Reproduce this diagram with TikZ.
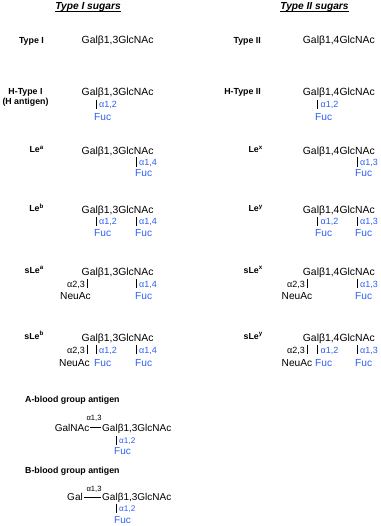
\documentclass[tikz,border=0pt]{standalone}
\usepackage{fontspec}
\setmainfont{Liberation Sans}
\usepackage{xcolor}
\definecolor{fucblue}{RGB}{45,95,245}

\tikzset{
  every node/.style={inner sep=0pt},
  sugar/.style={anchor=base west,font=\fontsize{10.4}{12}\selectfont},
  lbl/.style={anchor=base east,font=\bfseries\fontsize{8.8}{10}\selectfont},
  head/.style={anchor=base,font=\bfseries\itshape\fontsize{10.2}{12}\selectfont},
  lnk/.style={anchor=base west,text=fucblue,font=\fontsize{9}{10}\selectfont},
  sia/.style={anchor=base east,font=\fontsize{9}{10}\selectfont},
  fuc/.style={anchor=base west,text=fucblue,font=\fontsize{10.2}{12}\selectfont},
  neu/.style={anchor=base east,font=\fontsize{10.2}{12}\selectfont},
  bond/.style={line width=0.9pt}
}

\begin{document}
\begin{tikzpicture}[x=1pt,y=-1pt]
\useasboundingbox (0,0) rectangle (380,526);
% headings
\node[head] (t1) at (88,10) {Type I sugars};
\node[head] (t2) at (314.5,10) {Type II sugars};
\draw[line width=0.8pt] ([yshift=-1.3pt]t1.base west) -- ([yshift=-1.3pt]t1.base east);
\draw[line width=0.8pt] ([yshift=-1.3pt]t2.base west) -- ([yshift=-1.3pt]t2.base east);

% type I column
\node[lbl] (lI1) at (44,44) {Type I};
\node[sugar] (gI1) at (81.5,44) {Galβ1,3GlcNAc};

\node[lbl,anchor=base] (lI2) at (25.5,95) {H-Type I};
\node[lbl,anchor=base] (lI2b) at (25.5,104.5) {(H antigen)};
\node[sugar] (gI2) at (81.5,96) {Galβ1,3GlcNAc};
\node[lnk] (aI2) at (99,108) {α1,2};
\node[fuc] (fI2) at (94,120.5) {Fuc};

\node[lbl] (lI3) at (44,153) {Le\textsuperscript{a}};
\node[sugar] (gI3) at (81.5,154.5) {Galβ1,3GlcNAc};
\node[lnk] (aI3) at (139,165.5) {α1,4};
\node[fuc] (fI3) at (135,176.5) {Fuc};

\node[lbl] (lI4) at (44,212) {Le\textsuperscript{b}};
\node[sugar] (gI4) at (81.5,214) {Galβ1,3GlcNAc};
\node[lnk] (aI4) at (99,225) {α1,2};
\node[lnk] (aI4b) at (139,225) {α1,4};
\node[fuc] (fI4) at (94,236.5) {Fuc};
\node[fuc] (fI4b) at (135,236.5) {Fuc};

\node[lbl] (lI5) at (44,273) {sLe\textsuperscript{a}};
\node[sugar] (gI5) at (81.5,275) {Galβ1,3GlcNAc};
\node[sia] (sI5) at (85,287) {α2,3};
\node[lnk] (aI5b) at (139,287) {α1,4};
\node[neu] (nI5) at (91,299) {NeuAc};
\node[fuc] (fI5b) at (135,299) {Fuc};

\node[lbl] (lI6) at (44,339) {sLe\textsuperscript{b}};
\node[sugar] (gI6) at (81.5,341) {Galβ1,3GlcNAc};
\node[sia] (sI6) at (85,353) {α2,3};
\node[lnk] (aI6) at (99,353) {α1,2};
\node[lnk] (aI6b) at (139,353) {α1,4};
\node[neu] (nI6) at (90,366) {NeuAc};
\node[fuc] (fI6) at (94,366) {Fuc};
\node[fuc] (fI6b) at (135,366) {Fuc};

% type II column
\node[lbl] (lII1) at (261,44) {Type II};
\node[sugar] (gII1) at (302.7,44) {Galβ1,4GlcNAc};

\node[lbl] (lII2) at (261,95) {H-Type II};
\node[sugar] (gII2) at (302.7,96) {Galβ1,4GlcNAc};
\node[lnk] (aII2) at (320.5,108) {α1,2};
\node[fuc] (fII2) at (315,120.5) {Fuc};

\node[lbl] (lII3) at (263,153) {Le\textsuperscript{x}};
\node[sugar] (gII3) at (302.7,154.5) {Galβ1,4GlcNAc};
\node[lnk] (aII3) at (360,165.5) {α1,3};
\node[fuc] (fII3) at (355,176.5) {Fuc};

\node[lbl] (lII4) at (263,212) {Le\textsuperscript{y}};
\node[sugar] (gII4) at (302.7,214) {Galβ1,4GlcNAc};
\node[lnk] (aII4) at (320.5,225) {α1,2};
\node[lnk] (aII4b) at (360,225) {α1,3};
\node[fuc] (fII4) at (315,236.5) {Fuc};
\node[fuc] (fII4b) at (355,236.5) {Fuc};

\node[lbl] (lII5) at (263,273) {sLe\textsuperscript{x}};
\node[sugar] (gII5) at (302.7,275) {Galβ1,4GlcNAc};
\node[sia] (sII5) at (305,287) {α2,3};
\node[lnk] (aII5b) at (360,287) {α1,3};
\node[neu] (nII5) at (312.5,299) {NeuAc};
\node[fuc] (fII5b) at (355,299) {Fuc};

\node[lbl] (lII6) at (263,339) {sLe\textsuperscript{y}};
\node[sugar] (gII6) at (302.7,341) {Galβ1,4GlcNAc};
\node[sia] (sII6) at (305,353) {α2,3};
\node[lnk] (aII6) at (320.5,353) {α1,2};
\node[lnk] (aII6b) at (360,353) {α1,3};
\node[neu] (nII6) at (312.5,366) {NeuAc};
\node[fuc] (fII6) at (315,366) {Fuc};
\node[fuc] (fII6b) at (355,366) {Fuc};

% blood group antigens
\node[lbl,anchor=base west] (lA) at (25,402) {A-blood group antigen};
\node[neu,font=\fontsize{10}{12}\selectfont] (gnA) at (89.5,431) {GalNAc};
\node[sugar,font=\fontsize{10}{12}\selectfont] (gA) at (102,431) {Galβ1,3GlcNAc};
\node[anchor=base,font=\fontsize{7.6}{9}\selectfont] (bA) at (94,420.5) {α1,3};
\node[lnk,font=\fontsize{8.2}{10}\selectfont] (aA) at (119,443.5) {α1,2};
\node[fuc,font=\fontsize{10}{12}\selectfont] (fA) at (114,454.5) {Fuc};

\node[lbl,anchor=base west] (lB) at (25,473) {B-blood group antigen};
\node[neu,font=\fontsize{10}{12}\selectfont] (gnB) at (83,500.5) {Gal};
\node[sugar,font=\fontsize{10}{12}\selectfont] (gB) at (102,500.5) {Galβ1,3GlcNAc};
\node[anchor=base,font=\fontsize{7.6}{9}\selectfont] (bB) at (94,491.5) {α1,3};
\node[lnk,font=\fontsize{8.2}{10}\selectfont] (aB) at (119,511.5) {α1,2};
\node[fuc,font=\fontsize{10}{12}\selectfont] (fB) at (114,523) {Fuc};

% linkage bars
\foreach \a in {aI2,aI3,aI4,aI4b,aI5b,aI6,aI6b,aII2,aII3,aII4,aII4b,aII5b,aII6,aII6b,aA,aB}
  \draw[bond] ([xshift=-2.8pt,yshift=2pt]\a.north west) -- ([xshift=-2.8pt]\a.south west);
\foreach \s in {sI5,sI6,sII5,sII6}
  \draw[bond] ([xshift=2.5pt,yshift=2pt]\s.north east) -- ([xshift=2.5pt]\s.south east);
\draw[line width=0.7pt,shorten <=0.6pt,shorten >=0.6pt] (gnA.east) -- (gnA.east -| gA.west);
\draw[line width=0.7pt,shorten <=0.6pt,shorten >=0.6pt] (gnB.east) -- (gnB.east -| gB.west);
\end{tikzpicture}
\end{document}
